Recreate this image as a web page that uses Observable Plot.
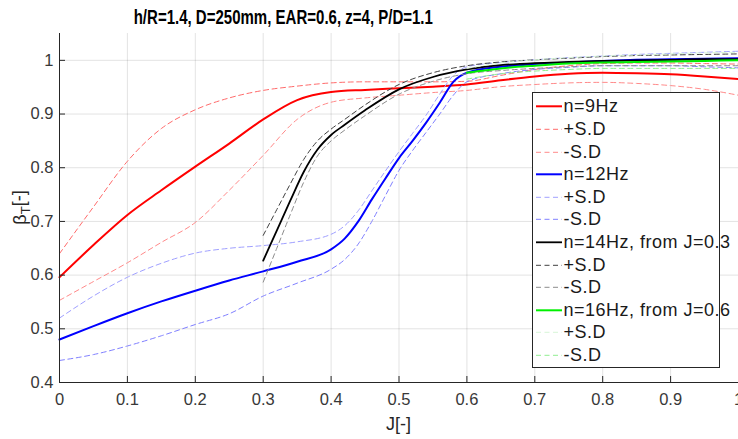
<!DOCTYPE html>
<html><head><meta charset="utf-8">
<script src="https://cdn.jsdelivr.net/npm/d3@7"></script>
<script src="https://cdn.jsdelivr.net/npm/@observablehq/plot@0.6"></script>
<style>
html,body{margin:0;padding:0;background:#fff;}
#wrap{position:relative;width:738px;height:439px;overflow:hidden;font-family:'Liberation Sans',Arial,Helvetica,sans-serif;}
#title{position:absolute;left:0;top:8px;width:567px;text-align:center;font-size:19.5px;line-height:19.5px;font-weight:bold;color:#000;}
#title span{display:inline-block;transform:scaleX(0.77);transform-origin:center;white-space:nowrap;}
#chart{position:absolute;left:0;top:33px;}
#legend{position:absolute;left:532px;top:92px;width:188px;height:276px;box-sizing:border-box;border:1px solid #262626;background:#fff;padding-top:2.4px;}
.row{position:relative;height:22.6px;}
.row svg{position:absolute;left:3px;top:0;}
.row span{position:absolute;left:30.5px;top:0;line-height:22.6px;font-size:18px;letter-spacing:0.5px;color:#1a1a1a;white-space:nowrap;}
</style></head>
<body>
<div id="wrap">
  <div id="title"><span></span></div>
  <div id="chart"></div>
  <div id="legend"></div>
</div>
<script>
const titleText = "h/R=1.4, D=250mm, EAR=0.6, z=4, P/D=1.1";

// n = 9 Hz
const J_9      = [0,0.05,0.1,0.15,0.2,0.25,0.3,0.35,0.4,0.45,0.5,0.55,0.6,0.65,0.7,0.75,0.8,0.85,0.9,0.95,1.0];
const n9_mean  = [0.596,0.656,0.712,0.758,0.802,0.845,0.890,0.926,0.941,0.945,0.948,0.951,0.955,0.963,0.970,0.975,0.977,0.976,0.974,0.970,0.965];
const n9_plus  = [0.640,0.727,0.812,0.873,0.908,0.930,0.944,0.952,0.958,0.960,0.960,0.960,0.961,0.972,0.983,0.990,0.994,0.995,0.995,0.994,0.993];
const n9_minus = [0.553,0.588,0.623,0.661,0.698,0.758,0.823,0.890,0.922,0.930,0.935,0.940,0.944,0.951,0.955,0.958,0.959,0.957,0.953,0.946,0.935];

// n = 12 Hz
const J_12      = [0,0.05,0.1,0.15,0.2,0.25,0.3,0.35,0.4,0.42,0.44,0.46,0.48,0.5,0.52,0.54,0.56,0.58,0.6,0.65,0.7,0.75,0.8,0.85,0.9,0.95,1.0];
const n12_mean  = [0.480,0.505,0.529,0.551,0.571,0.590,0.607,0.625,0.648,0.668,0.700,0.741,0.780,0.818,0.850,0.884,0.921,0.960,0.977,0.988,0.993,0.996,0.999,1.001,1.002,1.003,1.004];
const n12_plus  = [0.520,0.561,0.596,0.622,0.641,0.650,0.655,0.662,0.676,0.692,0.720,0.757,0.794,0.830,0.864,0.898,0.937,0.972,0.988,0.996,1.001,1.005,1.008,1.011,1.013,1.015,1.017];
const n12_minus = [0.441,0.452,0.468,0.487,0.508,0.528,0.561,0.585,0.611,0.629,0.658,0.700,0.748,0.795,0.832,0.866,0.900,0.935,0.960,0.975,0.983,0.987,0.990,0.990,0.990,0.988,0.986];

// n = 14 Hz, from J = 0.3
const J_14      = [0.3,0.32,0.34,0.36,0.38,0.4,0.42,0.45,0.5,0.55,0.6,0.65,0.7,0.75,0.8,0.85,0.9,0.95,1.0];
const n14_mean  = [0.627,0.683,0.739,0.793,0.834,0.861,0.880,0.907,0.946,0.969,0.983,0.991,0.995,0.997,0.999,1.000,1.001,1.002,1.002];
const n14_plus  = [0.674,0.722,0.770,0.816,0.850,0.872,0.890,0.917,0.955,0.977,0.990,0.997,1.001,1.004,1.007,1.009,1.010,1.011,1.012];
const n14_minus = [0.587,0.650,0.713,0.774,0.822,0.850,0.870,0.897,0.937,0.961,0.975,0.981,0.985,0.988,0.990,0.990,0.990,0.990,0.990];

// n = 16 Hz, from J = 0.6
const J_16      = [0.6,0.65,0.7,0.75,0.8,0.85,0.9,0.95,1.0];
const n16_mean  = [0.977,0.985,0.990,0.994,0.996,0.997,0.998,0.999,1.000];
const n16_plus  = [0.985,0.995,1.001,1.005,1.008,1.010,1.012,1.014,1.015];
const n16_minus = [0.965,0.975,0.980,0.983,0.985,0.985,0.985,0.985,0.985];

const xTicks = [0,0.1,0.2,0.3,0.4,0.5,0.6,0.7,0.8,0.9,1];
const yTicks = [0.4,0.5,0.6,0.7,0.8,0.9,1];
const legendLabels = ["n=9Hz","+S.D","-S.D","n=12Hz","+S.D","-S.D","n=14Hz, from J=0.3","+S.D","-S.D","n=16Hz, from J=0.6","+S.D","-S.D"];

const seriesData = [
  [J_9, n9_mean], [J_9, n9_plus], [J_9, n9_minus],
  [J_12, n12_mean], [J_12, n12_plus], [J_12, n12_minus],
  [J_14, n14_mean], [J_14, n14_plus], [J_14, n14_minus],
  [J_16, n16_mean], [J_16, n16_plus], [J_16, n16_minus]
];
const styles = [
  {stroke:"#ff0000", w:2, dash:null},
  {stroke:"#ff6b6b", w:1, dash:"5,3.5"},
  {stroke:"#ff8a8a", w:1, dash:"5,3.5"},
  {stroke:"#0000ff", w:2, dash:null},
  {stroke:"#a0a0ff", w:1, dash:"5,3.5"},
  {stroke:"#8080ff", w:1, dash:"5,3.5"},
  {stroke:"#000000", w:1.8, dash:null},
  {stroke:"#404040", w:1, dash:"5,3.5"},
  {stroke:"#8c8c8c", w:1, dash:"5,3.5"},
  {stroke:"#00f000", w:2, dash:null},
  {stroke:"#d8f6d8", w:1, dash:"5,3.5"},
  {stroke:"#90ee90", w:1, dash:"5,3.5"}
];

document.querySelector("#title span").textContent = titleText;

const lineMarks = seriesData.map(([J, vals], k) => {
  const rows = J.map((j, i) => ({J: j, beta: vals[i]}));
  const s = styles[k];
  return Plot.line(rows, {x: "J", y: "beta", stroke: s.stroke, strokeWidth: s.w,
    strokeDasharray: s.dash || undefined, curve: "monotone-x"});
});

const W = 738, H = 406, mL = 59, mB = 57;
const chart = Plot.plot({
  width: W, height: H,
  marginTop: 0, marginRight: 0, marginBottom: mB, marginLeft: mL,
  style: {fontFamily: "'Liberation Sans', Arial, Helvetica, sans-serif", fontSize: "16.5px", color: "#383838", background: "#fff"},
  x: {domain: [0, 1]},
  y: {domain: [0.4, 1.05]},
  marks: [
    Plot.gridX(xTicks, {stroke: "#262626", strokeOpacity: 0.13}),
    Plot.gridY(yTicks, {stroke: "#262626", strokeOpacity: 0.13}),
    ...lineMarks,
    Plot.ruleX([0], {stroke: "#262626"}),
    Plot.ruleY([0.4], {stroke: "#262626"}),
    Plot.tickX(xTicks, {x: d => d, stroke: "#262626", insetTop: H - mB - 6}),
    Plot.tickY(yTicks, {y: d => d, stroke: "#262626", insetRight: W - mL - 6}),
    Plot.axisX({ticks: xTicks, tickSize: 0, tickPadding: 11, tickFormat: d => String(+d.toFixed(1)), label: null}),
    Plot.axisY({ticks: yTicks, tickSize: 0, tickPadding: 6, tickFormat: d => String(+d.toFixed(1)), label: null})
  ]
});
document.getElementById("chart").appendChild(chart);

const svg = d3.select(chart);
const yl = svg.append("text")
  .attr("transform", `translate(26,${(H - mB) / 2}) rotate(-90)`)
  .attr("text-anchor", "middle")
  .attr("fill", "#262626")
  .style("font-size", "18px");
yl.append("tspan").text("β");
yl.append("tspan").attr("dy", "0.3em").style("font-size", "13px").text("T");
yl.append("tspan").attr("dy", "-0.3em").text("[-]");
svg.append("text")
  .attr("x", (mL + W) / 2).attr("y", 397)
  .attr("text-anchor", "middle")
  .attr("fill", "#262626")
  .style("font-size", "18px")
  .text("J[-]");

// legend
const leg = d3.select("#legend");
legendLabels.forEach((lab, k) => {
  const s = styles[k];
  const row = leg.append("div").attr("class", "row");
  const ls = row.append("svg").attr("width", 27).attr("height", 22.6);
  ls.append("line").attr("x1", 0).attr("x2", 26).attr("y1", 11.3).attr("y2", 11.3)
    .attr("stroke", s.stroke).attr("stroke-width", s.w)
    .attr("stroke-dasharray", s.dash);
  row.append("span").text(lab);
});
</script>
</body></html>
